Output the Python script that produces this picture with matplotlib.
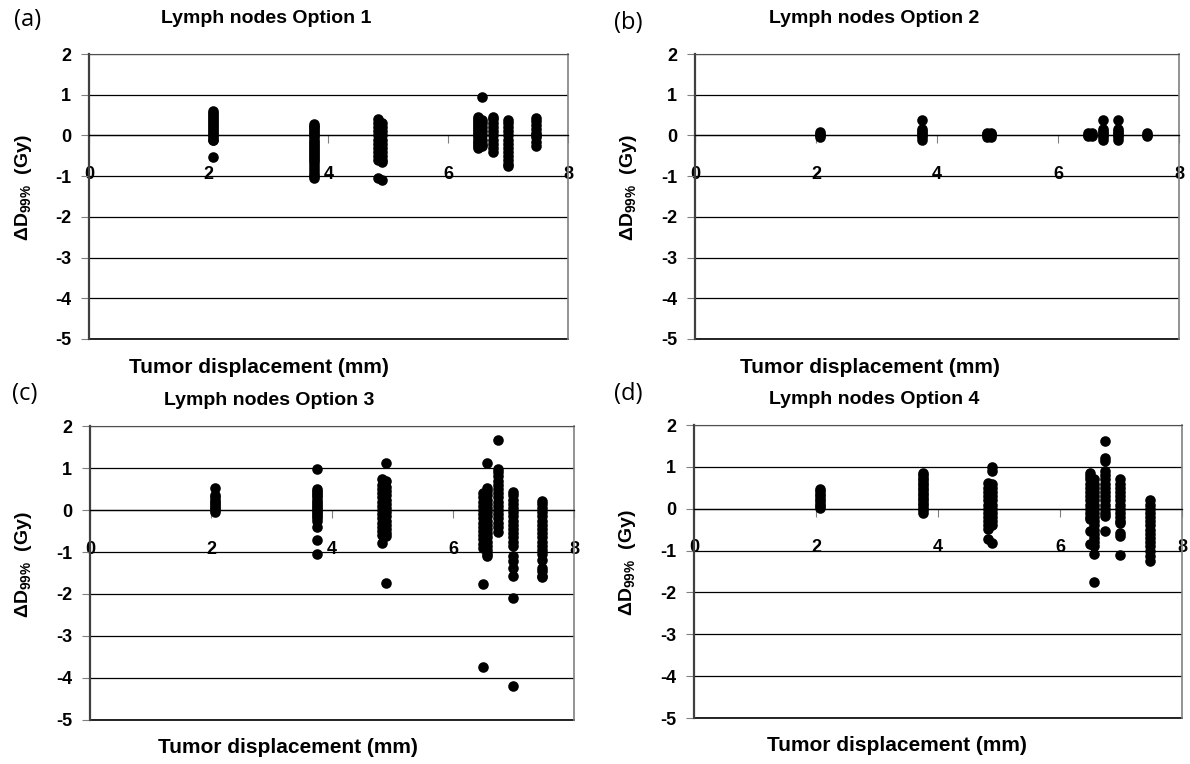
import matplotlib
matplotlib.use("Agg")
import matplotlib.pyplot as plt

plt.rcParams['font.family'] = 'Liberation Sans'
plt.rcParams['font.weight'] = 'bold'
plt.rcParams['mathtext.default'] = 'regular'
plt.rcParams['axes.unicode_minus'] = False

# tumor displacement (mm) of each patient cluster
disp_mm = [2.07, 3.76, 4.82, 4.89, 6.49, 6.56, 6.74, 6.99, 7.47]

# delta D99% (Gy), one list per displacement
option1 = [
    [0.61, 0.55, 0.5, 0.45, 0.4, 0.35, 0.3, 0.25, 0.2, 0.15, 0.1, 0.05, 0.0, -0.05, -0.1, -0.12, -0.54],
    [0.28, 0.24, 0.2, 0.15, 0.1, 0.05, 0.0, -0.05, -0.1, -0.15, -0.2, -0.25, -0.3, -0.35, -0.4, -0.45,
     -0.5, -0.55, -0.6, -0.65, -0.72, -0.8, -0.88, -0.95, -1.0, -1.05],
    [0.4, 0.3, 0.2, 0.1, 0.0, -0.1, -0.2, -0.3, -0.4, -0.5, -0.6, -1.05],
    [0.3, 0.2, 0.1, 0.0, -0.1, -0.2, -0.3, -0.4, -0.5, -0.6, -0.66, -1.1],
    [0.45, 0.4, 0.35, 0.3, 0.25, 0.2, 0.15, 0.1, 0.05, 0.0, -0.05, -0.1, -0.15, -0.2, -0.25, -0.3],
    [0.95, 0.38, 0.3, 0.2, 0.1, 0.0, -0.1, -0.2, -0.25],
    [0.45, 0.4, 0.3, 0.2, 0.1, 0.0, -0.1, -0.2, -0.3, -0.4],
    [0.38, 0.3, 0.2, 0.1, 0.0, -0.1, -0.2, -0.3, -0.4, -0.5, -0.6, -0.7, -0.76],
    [0.43, 0.35, 0.25, 0.15, 0.05, 0.0, -0.05, -0.15, -0.25],
]
option2 = [
    [0.08, 0.04, 0.0, -0.04],
    [0.37, 0.15, 0.1, 0.05, 0.0, -0.05, -0.1],
    [0.07, 0.03, 0.0, -0.03],
    [0.07, 0.03, 0.0, -0.03],
    [0.06, 0.02, -0.02],
    [0.06, 0.02, -0.02],
    [0.37, 0.15, 0.1, 0.05, 0.0, -0.05, -0.1],
    [0.37, 0.15, 0.1, 0.05, 0.0, -0.05, -0.1],
    [0.06, 0.02, -0.02],
]
option3 = [
    [0.52, 0.36, 0.3, 0.25, 0.2, 0.15, 0.1, 0.05, 0.0, -0.05],
    [0.97, 0.5, 0.45, 0.4, 0.35, 0.3, 0.25, 0.2, 0.15, 0.1, 0.05, 0.0, -0.05, -0.1, -0.15, -0.2, -0.25,
     -0.4, -0.71, -1.04],
    [0.75, 0.6, 0.5, 0.4, 0.3, 0.2, 0.1, 0.0, -0.1, -0.2, -0.3, -0.4, -0.5, -0.6, -0.79],
    [1.11, 0.7, 0.55, 0.45, 0.35, 0.25, 0.15, 0.05, -0.05, -0.15, -0.25, -0.35, -0.45, -0.55, -0.62, -1.75],
    [0.4, 0.3, 0.2, 0.1, 0.0, -0.1, -0.2, -0.3, -0.4, -0.5, -0.6, -0.7, -0.8, -0.9, -1.77, -3.75],
    [1.13, 0.52, 0.45, 0.35, 0.25, 0.15, 0.05, -0.05, -0.15, -0.25, -0.35, -0.45, -0.55, -0.65, -0.75,
     -0.85, -0.95, -1.05, -1.1],
    [1.67, 0.97, 0.9, 0.8, 0.7, 0.6, 0.5, 0.4, 0.3, 0.2, 0.1, 0.0, -0.1, -0.2, -0.3, -0.4, -0.52],
    [0.44, 0.35, 0.25, 0.15, 0.05, -0.05, -0.15, -0.25, -0.35, -0.45, -0.55, -0.65, -0.75, -0.86,
     -1.1, -1.22, -1.38, -1.57, -2.09, -4.2],
    [0.22, 0.15, 0.05, -0.05, -0.15, -0.25, -0.35, -0.45, -0.55, -0.65, -0.75, -0.85, -0.95, -1.05,
     -1.18, -1.38, -1.45, -1.57, -1.6],
]
option4 = [
    [0.48, 0.42, 0.36, 0.3, 0.24, 0.18, 0.12, 0.06, 0.02],
    [0.86, 0.8, 0.74, 0.68, 0.62, 0.56, 0.5, 0.44, 0.38, 0.32, 0.26, 0.2, 0.14, 0.08, 0.02, -0.04, -0.1],
    [0.62, 0.5, 0.4, 0.3, 0.2, 0.1, 0.0, -0.1, -0.2, -0.3, -0.4, -0.49, -0.73],
    [1.0, 0.9, 0.6, 0.5, 0.4, 0.3, 0.2, 0.1, 0.0, -0.1, -0.2, -0.3, -0.4, -0.83],
    [0.86, 0.78, 0.7, 0.6, 0.5, 0.4, 0.3, 0.2, 0.1, 0.0, -0.1, -0.2, -0.25, -0.53, -0.85],
    [0.71, 0.6, 0.5, 0.4, 0.3, 0.2, 0.1, 0.0, -0.1, -0.2, -0.3, -0.4, -0.5, -0.6, -0.7, -0.8, -0.9,
     -1.09, -1.75],
    [1.61, 1.21, 1.13, 0.9, 0.8, 0.7, 0.6, 0.5, 0.4, 0.3, 0.2, 0.1, 0.0, -0.1, -0.17, -0.53],
    [0.7, 0.6, 0.5, 0.4, 0.3, 0.2, 0.1, 0.0, -0.1, -0.2, -0.3, -0.34, -0.58, -0.66, -1.1],
    [0.2, 0.1, 0.0, -0.1, -0.2, -0.3, -0.4, -0.5, -0.6, -0.7, -0.8, -0.9, -1.0, -1.14, -1.24],
]

panel_data = [option1, option2, option3, option4]
titles = ['Lymph nodes Option 1', 'Lymph nodes Option 2',
          'Lymph nodes Option 3', 'Lymph nodes Option 4']
tags = ['(a)', '(b)', '(c)', '(d)']
x_ticks = [0, 2, 4, 6, 8]
y_ticks = [-5, -4, -3, -2, -1, 0, 1, 2]

# axes rectangles in figure fractions
rects = [
    [0.0748, 0.5563, 0.4025, 0.3730],
    [0.5840, 0.5563, 0.4067, 0.3730],
    [0.0756, 0.0576, 0.4067, 0.3848],
    [0.5832, 0.0602, 0.4100, 0.3835],
]
title_y = [1.125, 1.125, 1.088, 1.088]
xlabel_pos = [(0.355, -0.10), (0.362, -0.10), (0.41, -0.095), (0.416, -0.095)]
tag_pos = [(0.023, 0.974), (0.528, 0.970), (0.021, 0.484), (0.528, 0.484)]


def draw_panel(ax, values, title, ty, xl):
    for x, ys in zip(disp_mm, values):
        ax.scatter([x] * len(ys), ys, s=58, c='black', linewidths=0, zorder=4)
    ax.set_xlim(0, 8)
    ax.set_ylim(-5, 2)
    ax.set_xticks(x_ticks)
    ax.set_yticks(y_ticks)
    ax.grid(axis='y', color='black', linewidth=0.9)
    ax.set_axisbelow(True)

    ax.spines['bottom'].set_position(('data', 0))
    ax.spines['bottom'].set_color('black')
    ax.spines['bottom'].set_linewidth(0.9)
    ax.spines['left'].set_color('#404040')
    ax.spines['left'].set_linewidth(1.6)
    ax.spines['top'].set_color('#505050')
    ax.spines['right'].set_color('#808080')
    ax.spines['right'].set_linewidth(1.2)
    ax.plot([0, 1], [0, 0], transform=ax.transAxes, color='black',
            linewidth=1.2, clip_on=False)

    ax.tick_params(axis='x', direction='out', length=6, color='#808080',
                   pad=16, labelsize=13)
    ax.tick_params(axis='y', direction='out', length=6, color='#808080',
                   pad=7, labelsize=13)

    ax.text(0.37, ty, title, transform=ax.transAxes, ha='center',
            va='center', fontsize=14, fontweight='bold')
    ax.set_xlabel('Tumor displacement (mm)', fontsize=15, fontweight='bold',
                  va='center')
    ax.xaxis.set_label_coords(xl[0], xl[1])
    ax.set_ylabel('ΔD$_{99\\%}$  (Gy)', fontsize=14, fontweight='bold')
    ax.yaxis.set_label_coords(-0.115, 0.53)


fig = plt.figure(figsize=(11.9, 7.64), dpi=100)
for i in range(4):
    ax = fig.add_axes(rects[i])
    draw_panel(ax, panel_data[i], titles[i], title_y[i], xlabel_pos[i])
    fig.text(tag_pos[i][0], tag_pos[i][1], tags[i], ha='center', va='center',
             fontsize=17, fontweight='normal', family='Open Sans')

fig.savefig('out.png', dpi=100)
